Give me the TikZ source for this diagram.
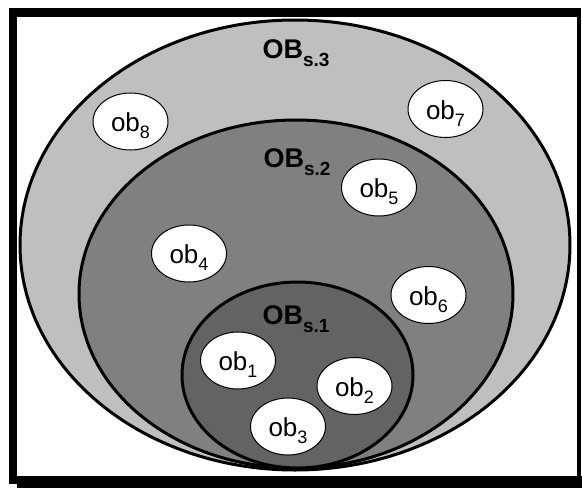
\documentclass[tikz,border=0pt]{standalone}
\usepackage{fontspec}
\setmainfont{Liberation Sans}
\usetikzlibrary{shapes.geometric}
\definecolor{setouter}{gray}{0.75}
\definecolor{setmid}{gray}{0.5}
\definecolor{setinner}{gray}{0.39}
\newcommand{\obname}[1]{ob\raisebox{-7pt}{\fontsize{18}{18}\selectfont #1}}
\newcommand{\setname}[1]{OB\raisebox{-8pt}{\fontsize{19}{19}\selectfont\bfseries s.#1}}
\begin{document}
\begin{tikzpicture}[x=1pt,y=-1pt,
  zone/.style={draw=black, line width=3pt},
  item/.style={ellipse, draw=black, fill=white, line width=1pt,
               minimum width=75pt, minimum height=57pt, inner sep=0pt},
  obtext/.style={anchor=base, inner sep=0pt, font=\fontsize{26}{26}\selectfont},
  settext/.style={anchor=base, inner sep=0pt, font=\fontsize{27}{27}\selectfont\bfseries}]
\useasboundingbox (0,0) rectangle (582,488);

% framed panel with its drop shadow
\fill[black] (9,8) rectangle (581,484);
\fill[black] (17,476) rectangle (582,488);
\fill[white] (17,17) rectangle (577,476);

% nested sets
\draw[zone, fill=setouter] (295,245) ellipse [x radius=275, y radius=225];
\draw[zone, fill=setmid]   (296,294) ellipse [x radius=217, y radius=174];
\draw[zone, fill=setinner] (297.5,375) ellipse [x radius=115.5, y radius=93];

\node[settext] (s3) at (296,58)  {\setname{3}};
\node[settext] (s2) at (297,167) {\setname{2}};
\node[settext] (s1) at (296,324) {\setname{1}};

% objects
\node[item] (o1) at (238,360.5) {};
\node[item] (o2) at (354.5,386) {};
\node[item] (o3) at (288,426.5) {};
\node[item] (o4) at (189,253.5) {};
\node[item] (o5) at (379,187.5) {};
\node[item] (o6) at (428.5,295) {};
\node[item] (o7) at (445.5,109) {};
\node[item] (o8) at (130.5,121.5) {};

\node[obtext] (t1) at (238,370.5) {\obname{1}};
\node[obtext] (t2) at (354.5,396) {\obname{2}};
\node[obtext] (t3) at (288,436.5) {\obname{3}};
\node[obtext] (t4) at (189,263.5) {\obname{4}};
\node[obtext] (t5) at (379,197.5) {\obname{5}};
\node[obtext] (t6) at (428.5,305) {\obname{6}};
\node[obtext] (t7) at (445.5,119) {\obname{7}};
\node[obtext] (t8) at (130.5,131) {\obname{8}};
\end{tikzpicture}
\end{document}
